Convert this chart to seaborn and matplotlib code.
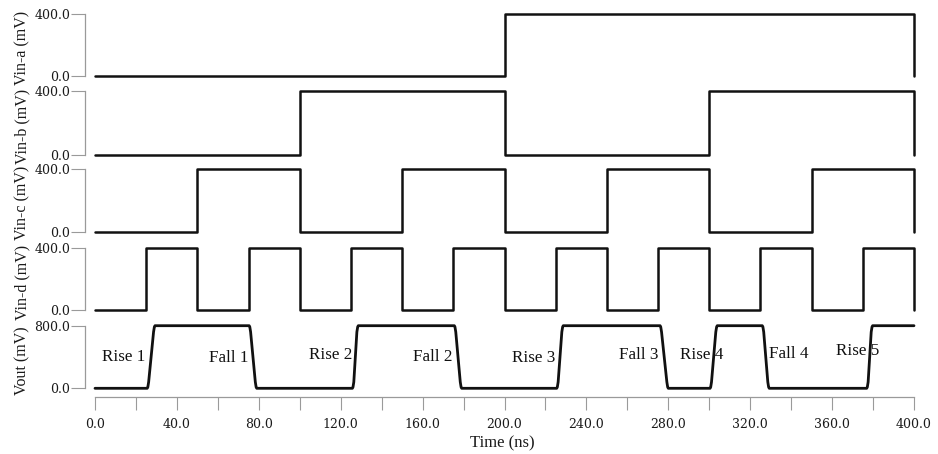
import matplotlib
matplotlib.use("Agg")
import matplotlib.pyplot as plt
import seaborn as sns
import pandas as pd

# ---------------- data ----------------
vin_a_t = [0, 200, 400]
vin_a_v = [0, 400, 0]

vin_b_t = [0, 100, 200, 300, 400]
vin_b_v = [0, 400, 0, 400, 0]

vin_c_t = [0, 50, 100, 150, 200, 250, 300, 350, 400]
vin_c_v = [0, 400, 0, 400, 0, 400, 0, 400, 0]

vin_d_t = [0, 25, 50, 75, 100, 125, 150, 175, 200, 225, 250, 275, 300, 325, 350, 375, 400]
vin_d_v = [0, 400, 0, 400, 0, 400, 0, 400, 0, 400, 0, 400, 0, 400, 0, 400, 0]

vout_t = [0,
          25.5, 25.8, 26.2, 28.6, 29.0, 29.3,
          75.3, 75.6, 76.0, 78.3, 78.7, 79.0,
          125.7, 126.0, 126.4, 127.9, 128.3, 128.6,
          175.5, 175.8, 176.2, 178.4, 178.8, 179.1,
          225.5, 225.8, 226.2, 228.0, 228.4, 228.7,
          276.0, 276.3, 276.7, 279.3, 279.7, 280.0,
          300.4, 300.7, 301.1, 303.2, 303.6, 303.9,
          325.9, 326.2, 326.6, 328.6, 329.0, 329.3,
          376.9, 377.2, 377.6, 379.1, 379.5, 379.8,
          400]
vout_v = [0,
          0, 15, 80, 720, 785, 800,
          800, 785, 720, 80, 15, 0,
          0, 15, 80, 720, 785, 800,
          800, 785, 720, 80, 15, 0,
          0, 15, 80, 720, 785, 800,
          800, 785, 720, 80, 15, 0,
          0, 15, 80, 720, 785, 800,
          800, 785, 720, 80, 15, 0,
          0, 15, 80, 720, 785, 800,
          800]

edge_labels = ["Rise 1", "Fall 1", "Rise 2", "Fall 2", "Rise 3",
               "Fall 3", "Rise 4", "Fall 4", "Rise 5"]
edge_label_t = [13.8, 65.3, 115.3, 165.1, 214.1, 265.6, 296.5, 338.6, 372.7]
edge_label_v = [404, 383, 425, 404, 391, 425, 425, 434, 477]

x_ticks = list(range(0, 401, 20))
x_tick_labels = [f"{v:.1f}" if v % 40 == 0 else "" for v in x_ticks]

panel_names = ["Vin-a (mV)", "Vin-b (mV)", "Vin-c (mV)", "Vin-d (mV)", "Vout (mV)"]

# ---------------- style ----------------
sns.set_style("white")
plt.rcParams["font.family"] = ["DejaVu Serif"]

W, H = 938, 454
fig = plt.figure(figsize=(W / 100, H / 100), dpi=100)

# panel pixel geometry: (top px of max, px of zero, max value)
geom = [(14.0, 76.0, 400), (90.7, 154.7, 400), (169.0, 232.0, 400),
        (247.7, 310.0, 400), (325.7, 388.3, 800)]
label_centers = [48, 126, 203, 282, 361]
series = [(vin_a_t, vin_a_v, "steps-post"), (vin_b_t, vin_b_v, "steps-post"),
          (vin_c_t, vin_c_v, "steps-post"), (vin_d_t, vin_d_v, "steps-post"),
          (vout_t, vout_v, "default")]
widths = [1.8, 1.8, 1.8, 1.8, 2.0]

x0_px, x1_px = 95, 914
pad = 5
gray = "#9a9a9a"
axes = []
for i, ((T, Z, vmax), (ts, vs, ds)) in enumerate(zip(geom, series)):
    rect = [x0_px / W, 1 - (Z + pad) / H, (x1_px - x0_px) / W, (Z - T + 2 * pad) / H]
    ax = fig.add_axes(rect)
    per = vmax / (Z - T)
    ax.set_ylim(-pad * per, vmax + pad * per)
    ax.set_xlim(0, 400)
    df = pd.DataFrame({"t": ts, "v": vs})
    sns.lineplot(data=df, x="t", y="v", ax=ax, sort=False, estimator=None,
                 color="#111111", linewidth=widths[i], drawstyle=ds)
    for line in ax.get_lines():
        line.set_clip_on(False)
    ax.set_xlabel("")
    ax.set_ylabel("")
    for s in ["top", "right"]:
        ax.spines[s].set_visible(False)
    ax.spines["left"].set_position(("outward", 7.2))
    ax.spines["left"].set_bounds(0, vmax)
    ax.spines["left"].set_color(gray)
    ax.spines["left"].set_linewidth(0.9)
    ax.set_yticks([0, vmax])
    ax.set_yticklabels(["0.0", f"{vmax:.1f}"])
    ax.tick_params(axis="y", direction="out", length=10, width=0.8, color=gray,
                   pad=0.8, labelsize=9, left=True, labelcolor="#1a1a1a")
    ax.patch.set_alpha(0)
    if i < 4:
        ax.spines["bottom"].set_visible(False)
        ax.tick_params(axis="x", bottom=False, labelbottom=False)
    else:
        ax.spines["bottom"].set_position(("outward", (397 - (Z + pad)) * 0.72))
        ax.spines["bottom"].set_bounds(0, 400)
        ax.spines["bottom"].set_color(gray)
        ax.spines["bottom"].set_linewidth(0.9)
        ax.set_xticks(x_ticks)
        ax.set_xticklabels(x_tick_labels)
        ax.tick_params(axis="x", direction="out", length=9.4, width=0.8, color=gray,
                       pad=5.6, labelsize=9, bottom=True, labelcolor="#1a1a1a")
        for lab, tx, vy in zip(edge_labels, edge_label_t, edge_label_v):
            ax.text(tx, vy, lab, ha="center", va="center", fontsize=12.3,
                    family=["Liberation Serif"], color="#111111")
    fig.text(22 / W, 1 - label_centers[i] / H, panel_names[i], rotation=90,
             ha="center", va="center", fontsize=11.5, family=["Liberation Serif"],
             color="#1a1a1a")
    axes.append(ax)

fig.text(502 / W, 1 - 443 / H, "Time (ns)", ha="center", va="center",
         fontsize=12, family=["Liberation Serif"], color="#1a1a1a")

fig.savefig("out.png", dpi=100)
